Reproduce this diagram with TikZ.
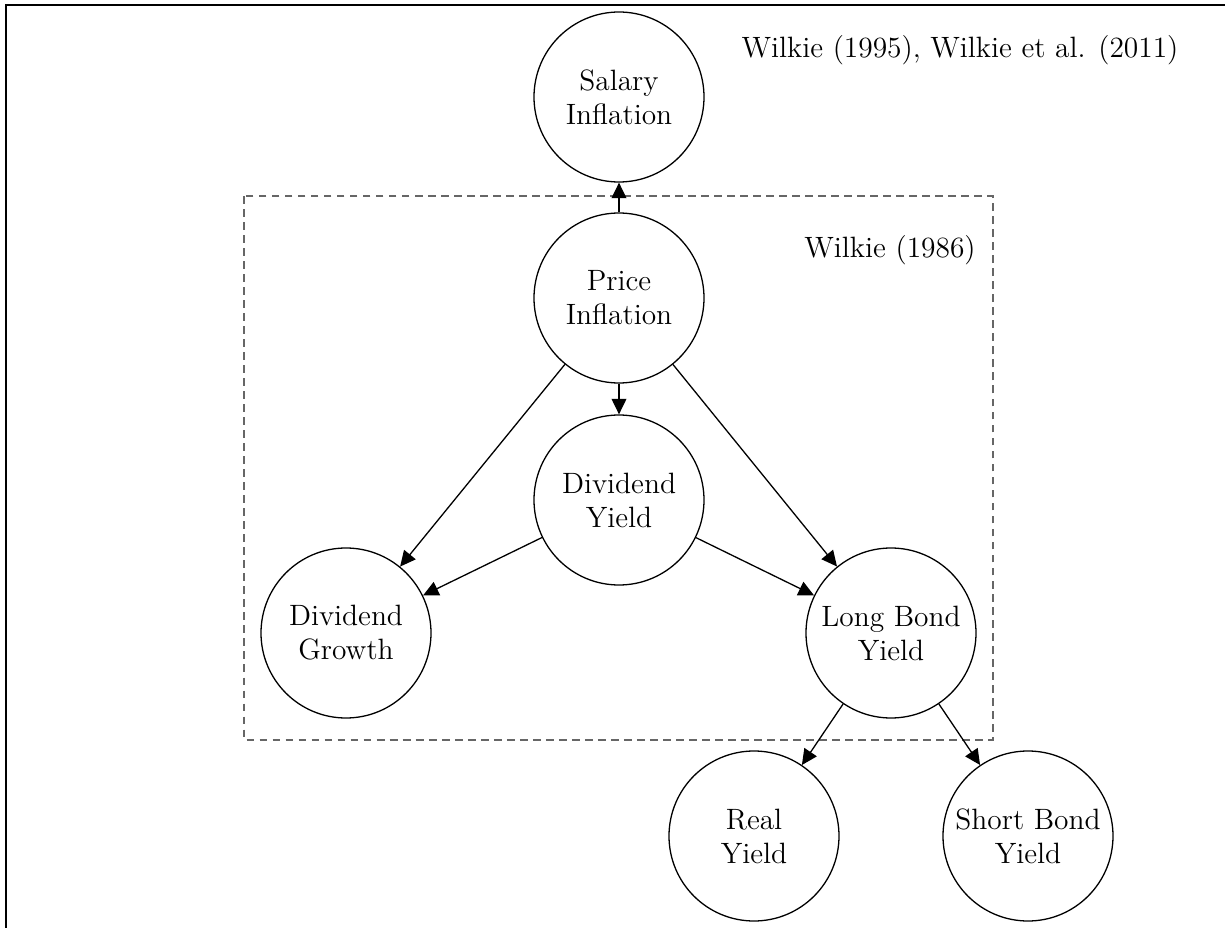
\documentclass[tikz,border=0pt]{standalone}
\usetikzlibrary{arrows.meta}
\begin{document}
\begin{tikzpicture}[x=0.0135cm,y=-0.0135cm,
  var/.style={draw, circle, line width=0.5pt, minimum size=170*0.0135cm, inner sep=0pt, align=center, font=\fontsize{11.3}{13.1}\selectfont},
  arr/.style={-{Triangle[length=0.21cm,width=0.2cm]}, line width=0.5pt},
  lbl/.style={font=\fontsize{11.3}{13.1}\selectfont, inner sep=0pt}]
\useasboundingbox (0,0) rectangle (1225,928);
\draw[line width=0.8pt] (6,928) -- (6,5) -- (1225,5);
\draw[gray!80!black, dash pattern=on 3pt off 2pt, line width=0.5pt] (244,196) rectangle (993,740);
\node[var] (sal) at (619,97) {Salary\\Inflation};
\node[var] (pri) at (619,298) {Price\\Inflation};
\node[var] (dy) at (619,500) {Dividend\\Yield};
\node[var] (dg) at (346,633) {Dividend\\Growth};
\node[var] (lb) at (891,633) {Long Bond\\Yield};
\node[var] (ry) at (754,836) {Real\\Yield};
\node[var] (sb) at (1028,836) {Short Bond\\Yield};
\node[lbl] (l1) at (960,50) {Wilkie (1995), Wilkie et al. (2011)};
\node[lbl] (l2) at (890,250) {Wilkie (1986)};
\draw[arr] (pri) -- (sal);
\draw[arr] (pri) -- (dy);
\draw[arr] (pri) -- (dg);
\draw[arr] (pri) -- (lb);
\draw[arr] (dy) -- (dg);
\draw[arr] (dy) -- (lb);
\draw[arr] (lb) -- (ry);
\draw[arr] (lb) -- (sb);
\end{tikzpicture}
\end{document}
